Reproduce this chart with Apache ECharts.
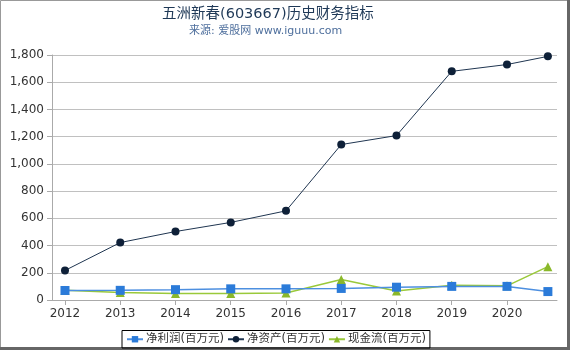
<!DOCTYPE html>
<html><head><meta charset="utf-8">
<script src="https://cdn.jsdelivr.net/npm/echarts@6/dist/echarts.min.js"></script>
<style>html,body{margin:0;padding:0;background:#fff}#c{width:570px;height:350px}</style>
</head><body><div id="c"></div>
<script>
const years = [2012, 2013, 2014, 2015, 2016, 2017, 2018, 2019, 2020, 2020.74];
const tickYears = [2012, 2013, 2014, 2015, 2016, 2017, 2018, 2019, 2020];
const netProfit = [70, 71, 76, 82, 82, 85, 94, 100, 100, 62];
const netAssets = [217, 422, 503, 570, 655, 1142, 1208, 1680, 1730, 1790];
const cashFlow = [72, 55, 48, 48, 52, 150, 66, 108, 104, 245];
const yTicks = [0, 200, 400, 600, 800, 1000, 1200, 1400, 1600, 1800];

const pair = arr => years.map((y, i) => [y, arr[i]]);
const ff = 'DejaVu Sans, "Noto Sans CJK SC", sans-serif';
const chart = echarts.init(document.getElementById('c'));
chart.setOption({
  animation: false,
  textStyle: {fontFamily: ff},
  title: [{
    text: '五洲新春(603667)历史财务指标',
    left: 157, top: 2,
    textStyle: {fontSize: 14.5, fontWeight: 'normal', color: '#1f3957', fontFamily: ff}
  }, {
    text: '来源: 爱股网 www.iguuu.com',
    left: 184, top: 21,
    textStyle: {fontSize: 11, fontWeight: 'normal', color: '#4d6e9c', fontFamily: ff}
  }],
  grid: {left: 52, right: 13, top: 55, bottom: 50},
  xAxis: {
    type: 'value', min: 2011.765, max: 2020.905,
    axisLine: {lineStyle: {color: '#aaa'}},
    axisTick: {show: true, customValues: tickYears, length: 5, lineStyle: {color: '#aaa'}},
    axisLabel: {customValues: tickYears, color: '#333', fontSize: 12, margin: 8, formatter: v => String(v)},
    splitLine: {show: false}
  },
  yAxis: {
    type: 'value', min: 0, max: 1800, interval: 200,
    axisLine: {show: true, lineStyle: {color: '#aaa'}},
    axisTick: {show: true, length: 5, lineStyle: {color: '#aaa'}},
    axisLabel: {color: '#333', fontSize: 12, margin: 8,
      formatter: v => v.toLocaleString('en-US')},
    splitLine: {lineStyle: {color: '#c0c0c0'}}
  },
  legend: {
    bottom: 2, left: 122,
    borderColor: '#000', borderWidth: 1, padding: [3, 4, 3, 4],
    itemWidth: 16, itemHeight: 8, itemGap: 3,
    textStyle: {color: '#333', fontSize: 11.5, padding: [0, 0, 0, -2]},
    data: ['净利润(百万元)', '净资产(百万元)', '现金流(百万元)']
  },
  series: [
    {name: '净利润(百万元)', type: 'line', data: pair(netProfit),
     symbol: 'rect', symbolSize: 9,
     lineStyle: {color: '#4d8fe0', width: 1.5},
     itemStyle: {color: '#2b7bd9'}, z: 3},
    {name: '净资产(百万元)', type: 'line', data: pair(netAssets),
     symbol: 'circle', symbolSize: 8,
     lineStyle: {color: '#1f3550', width: 1},
     itemStyle: {color: '#0e2038'}, z: 4},
    {name: '现金流(百万元)', type: 'line', data: pair(cashFlow),
     symbol: 'triangle', symbolSize: 9,
     lineStyle: {color: '#9ac93a', width: 1.5},
     itemStyle: {color: '#8ab82a'}, z: 2}
  ],
  graphic: [
    {type: 'rect', shape: {x: 0.5, y: 0.5, width: 567, height: 347}, style: {fill: 'none', stroke: '#999', lineWidth: 1}, silent: true},
    {type: 'line', shape: {x1: 568.5, y1: 0, x2: 568.5, y2: 350}, style: {stroke: '#666', lineWidth: 3}, silent: true},
    {type: 'line', shape: {x1: 0, y1: 348.5, x2: 570, y2: 348.5}, style: {stroke: '#666', lineWidth: 3}, silent: true}
  ]
});
</script></body></html>
